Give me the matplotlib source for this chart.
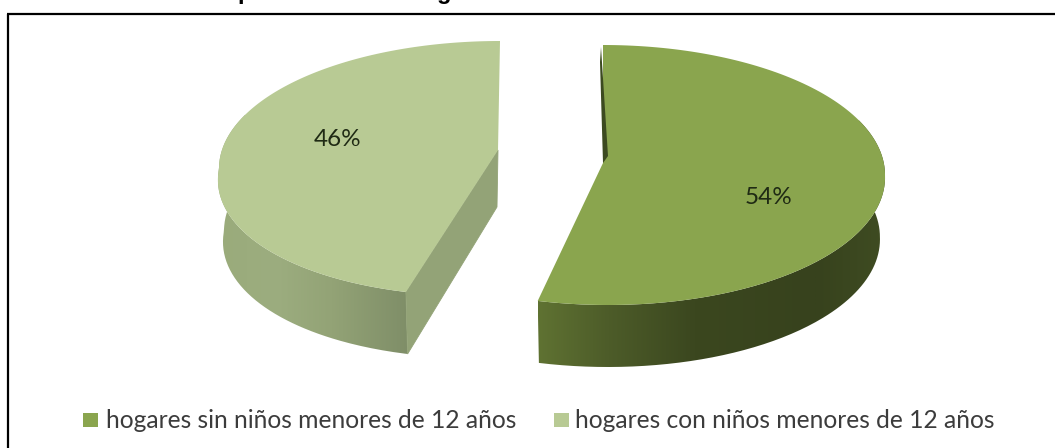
import numpy as np
import matplotlib
matplotlib.use("Agg")
import matplotlib.pyplot as plt
from matplotlib.colors import LinearSegmentedColormap
from matplotlib.patches import PathPatch, Polygon, Rectangle
from matplotlib.path import Path

# values
shares = [54, 46]
share_labels = ["54%", "46%"]
legend_labels = ["hogares sin niños menores de 12 años", "hogares con niños menores de 12 años"]
top_colors = ["#8aa54e", "#b8ca94"]
# the title is cut off by the image edge, only these descenders show
title_bits = ["p", "g"]

# pie drawn in image pixels: cx, cy, rx, ry, lean of the front half, apex y
DEPTH = 62
SHRINK = 0.982
right_geom = (603, 175, 282, 130, 5, 163)
left_geom = (500, 168.5, 281, 127.5, -25, 150)


def rim(a, b, geom, n=160):
    cx, cy, rx, ry, lean, _ = geom
    t = np.radians(np.linspace(a, b, n))
    x = cx + rx * np.sin(t)
    y = cy - ry * np.cos(t)
    x = x + lean * np.clip(y - cy, 0, None) / ry
    return np.column_stack([x, y])


def drop(arc, geom):
    # bottom edge of the extruded rim, a little narrower than the top one
    out = arc + [0, DEPTH]
    out[:, 0] = geom[0] + (out[:, 0] - geom[0]) * SHRINK
    return out


def side(ax, pts, stops):
    # extruded face with a horizontal shading
    patch = PathPatch(Path(pts, closed=False), fc="none", ec="none")
    ax.add_patch(patch)
    cmap = LinearSegmentedColormap.from_list("s", stops)
    g = np.linspace(0, 1, 400).reshape(1, -1)
    im = ax.imshow(g, cmap=cmap, aspect="auto", vmin=0, vmax=1, zorder=2,
                   extent=[pts[:, 0].min(), pts[:, 0].max(), pts[:, 1].max(), pts[:, 1].min()])
    im.set_clip_path(patch)


fig = plt.figure(figsize=(10.55, 4.48), dpi=100)
ax = fig.add_axes([0, 0, 1, 1])

split = shares[0] / sum(shares) * 360

# right slice
arc = rim(65, split, right_geom)
lower = drop(arc, right_geom)
side(ax, np.vstack([arc, lower[::-1], arc[:1]]),
     [(0, "#5f7232"), (0.2, "#4d5c29"), (0.45, "#3b471f"), (0.8, "#37421d"), (1, "#3f4c22")])
top = np.vstack([[right_geom[0], right_geom[5]], rim(0, split, right_geom)])
ax.add_patch(Polygon(top, closed=True, fc=top_colors[0], ec="none", zorder=3))
ax.add_patch(Polygon([(600, 62), (603, 163), (608, 156), (601, 47)], closed=True,
                     fc="#3c4a20", ec="none", zorder=4))

# left slice
arc = rim(split, 295, left_geom)
lower = drop(arc, left_geom)
side(ax, np.vstack([arc, lower[::-1], arc[:1]]),
     [(0, "#9aab7b"), (0.3, "#9cad7f"), (0.6, "#93a376"), (1, "#7f8e68")])
corner = arc[0]
apex = (left_geom[0] - 2, left_geom[5])
ax.add_patch(Polygon([apex, corner, lower[0], (apex[0] - 1, apex[1] + 57)],
                     closed=True, fc="#93a377", ec="#93a377", lw=0.6, zorder=2.5))
top = np.vstack([apex, rim(split, 360, left_geom)])
ax.add_patch(Polygon(top, closed=True, fc=top_colors[1], ec="none", zorder=3))

# percent labels
ax.text(769, 197, share_labels[0], ha="center", va="center", fontsize=17.5,
        family="Lato", color="#1f2a14", zorder=5)
ax.text(338, 139, share_labels[1], ha="center", va="center", fontsize=17.5,
        family="Lato", color="#1f2a14", zorder=5)

# legend
for x0, tx, lab, col in zip([83, 554], [106, 575], legend_labels, top_colors):
    ax.add_patch(Rectangle((x0, 413), 15, 14, fc=col, ec="none"))
    ax.text(tx, 420, lab, ha="left", va="center", fontsize=17.7, family="Lato", color="#3c3c3c")

# clipped title
for tx, bit in zip([245, 444], title_bits):
    ax.text(tx, -0.5, bit, ha="center", va="baseline", fontsize=17, fontweight="bold",
            family="Liberation Sans", color="black", clip_on=False)

# frame of the page
ax.plot([8, 8], [448, 14], color="black", lw=1.6, solid_capstyle="butt")
ax.plot([7, 1055], [14, 14], color="black", lw=1.6, solid_capstyle="butt")

ax.set_xlim(0, 1055)
ax.set_ylim(448, 0)
ax.axis("off")
fig.savefig("out.png", dpi=100)
